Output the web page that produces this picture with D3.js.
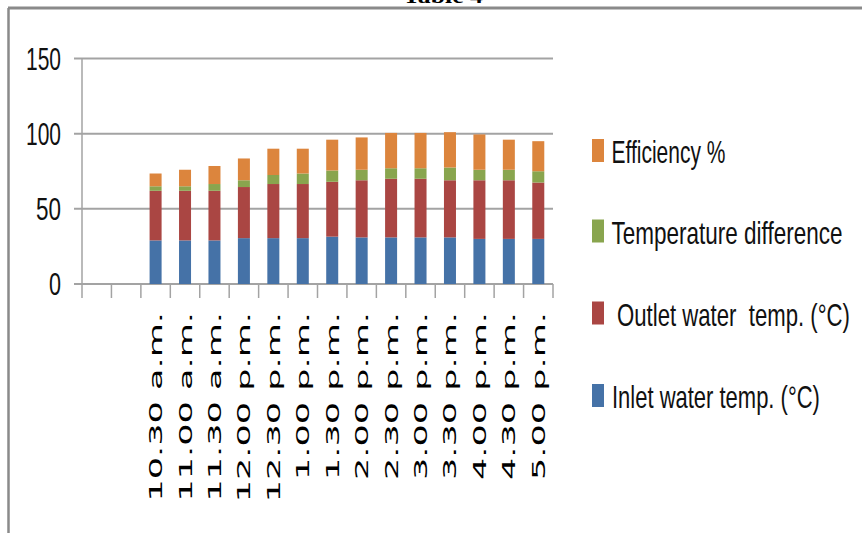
<!DOCTYPE html>
<html>
<head>
<meta charset="utf-8">
<script src="https://cdn.jsdelivr.net/npm/d3@7"></script>
<style>
  html, body { margin: 0; padding: 0; background: #ffffff; }
  svg { display: block; }
</style>
</head>
<body>
<svg id="chart" width="862" height="533"></svg>
<script>
// Sampling times; the first two slots of the axis are left empty.
const categories = ["", "", "10.30 a.m.", "11.00 a.m.", "11.30 a.m.", "12.00 p.m.", "12.30 p.m.",
  "1.00 p.m.", "1.30 p.m.", "2.00 p.m.", "2.30 p.m.", "3.00 p.m.", "3.30 p.m.",
  "4.00 p.m.", "4.30 p.m.", "5.00 p.m."];

// Stacked series, bottom to top
const inletTemp  = [null, null, 29, 29, 29, 30.5, 30.5, 30.5, 31.5, 31, 31, 31, 31, 30, 30, 30];
const outletTemp = [null, null, 33, 33, 33, 34, 36, 36, 36.5, 38, 39, 39, 38, 39, 39, 37.5];
const tempDiff   = [null, null, 3, 3, 4.5, 4.5, 6, 7, 7.5, 7, 7, 7, 8.5, 7, 7, 7.5];
const efficiency = [null, null, 8.5, 11, 12, 14.5, 17.5, 16.5, 20.5, 21.5, 23.5, 23.5, 23.5, 23.5, 20, 20];

const seriesNames = ["Inlet water temp. (°C)", "Outlet water  temp. (°C)", "Temperature difference", "Efficiency %"];
const seriesColors = ["#4572a7", "#aa4643", "#89a54e", "#dc853d"];
const yTicks = [0, 50, 100, 150];

const svg = d3.select("#chart");

// Squeeze a text horizontally so it spans the given width
function fitWidth(sel, tx, ty, width) {
  sel.each(function (d) {
    const w = typeof width === "function" ? width(d) : width;
    const px = typeof tx === "function" ? tx(d) : tx;
    const py = typeof ty === "function" ? ty(d) : ty;
    const len = this.getComputedTextLength() || 1;
    d3.select(this).attr("transform", `translate(${px},${py}) scale(${w / len},1)`);
  });
}

// Page frame and the caption running off the top edge
svg.append("text")
  .attr("x", 0).attr("y", 0)
  .style("font-family", "'Liberation Serif', serif")
  .style("font-weight", "bold").style("font-size", "22px")
  .text("Table 4")
  .call(fitWidth, 403, 2.5, 80);
svg.append("line").attr("x1", 8).attr("x2", 862).attr("y1", 8).attr("y2", 8)
  .attr("stroke", "#8a8a8a").attr("stroke-width", 3);
svg.append("line").attr("x1", 8.5).attr("x2", 8.5).attr("y1", 8).attr("y2", 533)
  .attr("stroke", "#8a8a8a").attr("stroke-width", 2.5);

// Plot area
const plotLeft = 82, plotRight = 553, plotTop = 58.5, plotBottom = 284;

const x = d3.scaleBand()
  .domain(d3.range(categories.length))
  .range([plotLeft, plotRight])
  .paddingInner(0.592)
  .paddingOuter(0.296);

const y = d3.scaleLinear().domain([0, 150]).range([plotBottom, plotTop]);

const step = x.step();
const gap = (step - x.bandwidth()) / 2;

// Gridlines with their short ticks on the value axis
svg.append("g").selectAll("line").data(yTicks).join("line")
  .attr("x1", 74).attr("x2", plotRight)
  .attr("y1", d => y(d)).attr("y2", d => y(d))
  .attr("stroke", "#a3a3a3").attr("stroke-width", 2);

// Value axis line
svg.append("line").attr("x1", plotLeft).attr("x2", plotLeft)
  .attr("y1", y(150)).attr("y2", y(0))
  .attr("stroke", "#a3a3a3").attr("stroke-width", 1.5);

// Category tick marks at band boundaries
const boundaries = d3.range(categories.length + 1).map(i =>
  i < categories.length ? x(i) - gap : x(categories.length - 1) + x.bandwidth() + gap);
svg.append("g").selectAll("line").data(boundaries).join("line")
  .attr("x1", d => d).attr("x2", d => d)
  .attr("y1", y(0)).attr("y2", y(0) + 14)
  .attr("stroke", "#a3a3a3").attr("stroke-width", 1.5);

// Value axis labels (right-aligned at x = 61)
const yLabelWidth = { "0": 12, "50": 25, "100": 35, "150": 35 };
svg.append("g").selectAll("text").data(yTicks).join("text")
  .attr("x", 0).attr("y", 0)
  .attr("text-anchor", "end")
  .style("font-family", "'Liberation Sans', Arial, sans-serif")
  .style("font-size", "32px").style("fill", "#111")
  .text(d => d)
  .call(fitWidth, 61, d => y(d) + 11, d => yLabelWidth[d]);

// Stacked bars
const rows = categories.map((c, i) => ({
  i,
  v: [inletTemp[i], outletTemp[i], tempDiff[i], efficiency[i]]
})).filter(r => r.v[0] !== null);

const stackGen = d3.stack()
  .keys([0, 1, 2, 3])
  .value((r, k) => r.v[k]);
const stacked = stackGen(rows);

svg.append("g").selectAll("g").data(stacked).join("g")
  .attr("fill", (s, k) => seriesColors[k])
  .selectAll("rect").data(s => s).join("rect")
  .attr("x", d => x(d.data.i))
  .attr("width", x.bandwidth())
  .attr("y", d => y(d[1]))
  .attr("height", d => y(d[0]) - y(d[1]));

// Rotated category labels
svg.append("g").selectAll("text").data(categories.map((c, i) => ({ c, i })).filter(d => d.c))
  .join("text")
  .attr("transform", d => `translate(${x(d.i) + x.bandwidth() / 2},312) rotate(-90) scale(1.95,1)`)
  .attr("x", 0).attr("y", 6.5)
  .attr("text-anchor", "end")
  .style("font-family", "'DejaVu Sans', Verdana, sans-serif")
  .style("font-size", "18px").style("fill", "#000")
  .text(d => d.c);

// Legend (top entry is the top of the stack)
const legendItems = [
  { k: 3, cy: 150.5, tx: 611.5, w: 114 },
  { k: 2, cy: 231,   tx: 611.5, w: 231 },
  { k: 1, cy: 313,   tx: 617,   w: 233 },
  { k: 0, cy: 395.5, tx: 612,   w: 208 }
];
const lg = svg.append("g").selectAll("g").data(legendItems).join("g");
lg.append("rect")
  .attr("x", 592).attr("y", d => d.cy - 11.5)
  .attr("width", 12).attr("height", 23)
  .attr("fill", d => seriesColors[d.k]);
lg.append("text")
  .attr("x", 0).attr("y", 0)
  .style("white-space", "pre")
  .style("font-family", "'Liberation Sans', Arial, sans-serif")
  .style("font-size", "31px").style("fill", "#111")
  .text(d => seriesNames[d.k])
  .call(fitWidth, d => d.tx, d => d.cy + 12.5, d => d.w);
</script>
</body>
</html>
